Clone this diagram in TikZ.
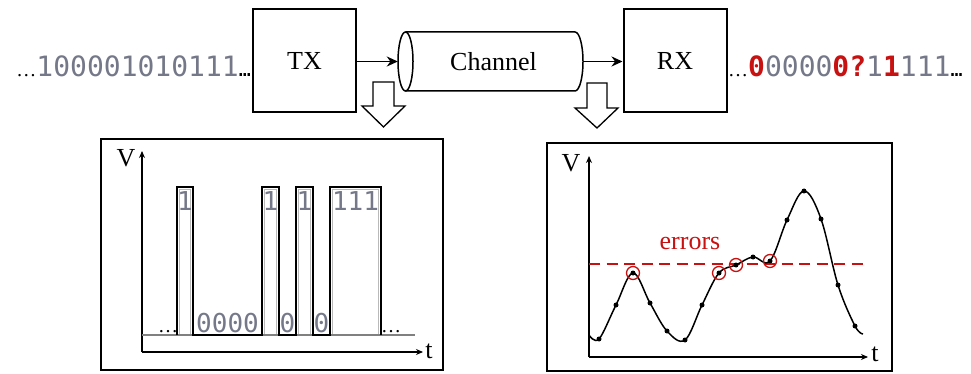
\documentclass[tikz,border=0pt]{standalone}
\usepackage{fontspec}
\setmainfont{Liberation Serif}
\newfontfamily\bitfont{DejaVu Sans Mono}
\usetikzlibrary{arrows.meta}

\definecolor{bitgray}{RGB}{116,120,136}
\definecolor{errred}{RGB}{200,18,18}

\newcommand\labsize{\fontsize{26}{30}\selectfont}
\newcommand\dotsize{\fontsize{20}{24}\selectfont}
\newcommand\topbits{\fontsize{28}{30}\selectfont\bitfont}
\newcommand\pulsebits{\fontsize{26}{28}\selectfont\bitfont\color{bitgray}}
\newcommand\rb[1]{{\bfseries\color{errred}#1}}

\begin{document}
\begin{tikzpicture}[x=1pt,y=-1pt,
  blockbox/.style={draw, line width=2pt, minimum width=103pt, minimum height=103pt, inner sep=0pt, font=\labsize},
  flowarrow/.style={line width=1.8pt, -{Stealth[length=11pt,width=10pt]}},
  hollowarrow/.style={draw, line width=1.3pt, fill=white, line join=miter},
  panel/.style={draw, line width=2pt},
  axisline/.style={line width=1.4pt, -{Stealth[length=7pt,width=6pt]}},
  pulse/.style={line width=1.5pt, line join=miter},
  bitframe/.style={draw=gray!55, line width=0.8pt},
  sample/.style={circle, fill=black, inner sep=0pt, minimum size=5pt},
  errmark/.style={circle, draw=errred, line width=1.3pt, inner sep=0pt, minimum size=13pt},
  axislabel/.style={font=\labsize, inner sep=0pt}
]
\useasboundingbox (0,0) rectangle (971,374);

% --- transmitter, channel and receiver chain ---
\node[blockbox] (tx) at (304.5,60.5) {TX};
\node[blockbox] (rx) at (675,60.5) {RX};
\node[minimum width=185pt, minimum height=59pt, inner sep=0pt, font=\labsize] (chan) at (490.5,61.5) {\hspace*{6pt}Channel};

% cylinder outline of the channel
\draw[line width=1.5pt] (405.5,61.5) ellipse[x radius=7.5, y radius=29.5];
\draw[line width=1.5pt] (405.5,32) -- (575,32) arc[start angle=-90, end angle=90, x radius=8, y radius=29.5] -- (405.5,91);

\draw[flowarrow] (tx.east |- chan.west) -- (chan.west);
\draw[flowarrow] (chan.east) -- (rx.west |- chan.east);

% bit streams
\node[anchor=base east, inner sep=0pt] (txbits) at (251,77)
  {\dotsize…\topbits\color{bitgray}100001010111\color{black}\dotsize…};
\node[anchor=base west, inner sep=0pt] (rxbits) at (728,77)
  {\dotsize…\topbits\color{bitgray}\rb{0}0000\rb{0}\rb{?}1\rb{1}111\color{black}\dotsize…};

% hollow arrows pointing to the waveforms
\path[hollowarrow] (373,82) -- (394,82) -- (394,106) -- (405,106) -- (383.5,127) -- (362,106) -- (373,106) -- cycle;
\path[hollowarrow] (587,83) -- (607,83) -- (607,108) -- (618,108) -- (597,128) -- (575,108) -- (587,108) -- cycle;

% --- transmitted waveform ---
\draw[panel] (101,139) rectangle (443,370);
\coordinate (o1) at (142,352);
\draw[axisline] (o1) -- (142,151);
\draw[axisline] (o1) -- (423,352);
\node[axislabel] (v1) at (126,158) {V};
\node[axislabel] (t1) at (429,351) {t};

% thin frames of the bit cells, just inside the pulse edges
\draw[bitframe] (179.5,335) -- (179.5,189.5) -- (190.5,189.5) -- (190.5,335);
\draw[bitframe] (264.5,335) -- (264.5,189.5) -- (276.5,189.5) -- (276.5,335);
\draw[bitframe] (298.5,335) -- (298.5,189.5) -- (310.5,189.5) -- (310.5,335);
\draw[bitframe] (332.5,335) -- (332.5,189.5) -- (378.5,189.5) -- (378.5,335);

\draw[line width=1.2pt, gray] (142,335) -- (415,335);
\draw[pulse] (177,335) -- (177,187) -- (193,187) -- (193,335) -- (262,335) -- (262,187) -- (279,187)
  -- (279,335) -- (296,335) -- (296,187) -- (313,187) -- (313,335) -- (330,335) -- (330,187)
  -- (381,187) -- (381,335);

\node[inner sep=0pt] (b1) at (185,201) {\pulsebits 1};
\node[inner sep=0pt] (b2) at (270.5,201) {\pulsebits 1};
\node[inner sep=0pt] (b3) at (304.5,201) {\pulsebits 1};
\node[inner sep=0pt] (b4) at (355.5,201) {\pulsebits 111};
\node[inner sep=0pt] (z1) at (227.5,323) {\pulsebits 0000};
\node[inner sep=0pt] (z2) at (287.5,323) {\pulsebits 0};
\node[inner sep=0pt] (z3) at (321.5,323) {\pulsebits 0};
\node[anchor=base, inner sep=0pt] (d1) at (168,332) {\dotsize…};
\node[anchor=base, inner sep=0pt] (d2) at (391,332) {\dotsize…};

% --- received waveform ---
\draw[panel] (547,143) rectangle (892,371);
\coordinate (o2) at (589,357);
\draw[axisline] (o2) -- (589,156);
\draw[axisline] (o2) -- (868,357);
\node[axislabel] (v2) at (571,163) {V};
\node[axislabel] (t2) at (875,354) {t};

\draw[errred, line width=1.8pt, dash pattern=on 11pt off 6.5pt] (589,264) -- (864,264);
\node[font=\labsize, text=errred, inner sep=0pt] (err) at (690,244) {errors};

\draw[line width=1.5pt] plot[smooth, tension=0.6] coordinates {
  (589,335) (599,339) (616,305) (633,273) (650,303) (667,331) (685,340)
  (702,305) (719,273) (736,265) (753,257) (770,261) (787,220) (804,191)
  (821,219) (838,285) (855,326) (863,334)};

\foreach \p [count=\i] in {(599,339),(616,305),(633,273),(650,303),(667,331),(685,340),
  (702,305),(719,273),(736,265),(753,257),(770,261),(787,220),(804,191),
  (821,219),(838,285),(855,326)}
  \node[sample] (s\i) at \p {};

\node[errmark] (e1) at (s3) {};
\node[errmark] (e2) at (s8) {};
\node[errmark] (e3) at (s9) {};
\node[errmark] (e4) at (s11) {};
\end{tikzpicture}
\end{document}
